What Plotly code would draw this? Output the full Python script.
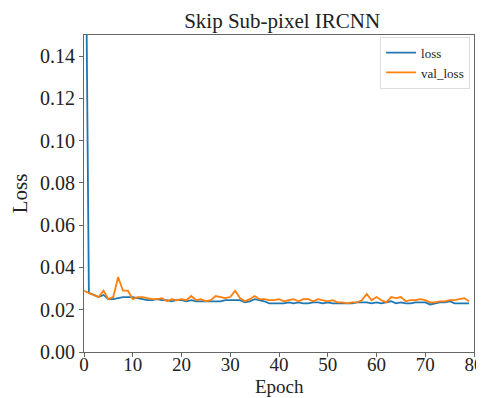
import plotly.graph_objects as go

epochs = list(range(80))
loss = [0.30, 0.028, 0.027, 0.026, 0.027, 0.025, 0.025, 0.0255, 0.026, 0.026,
        0.026, 0.0255, 0.025, 0.0245, 0.0245, 0.025, 0.0245, 0.0245, 0.024, 0.0245,
        0.0245, 0.024, 0.0245, 0.024, 0.024, 0.024, 0.024, 0.024, 0.024, 0.0245,
        0.0245, 0.0245, 0.0245, 0.0235, 0.024, 0.025, 0.0245, 0.024, 0.023, 0.023,
        0.023, 0.023, 0.0235, 0.023, 0.0235, 0.023, 0.023, 0.0235, 0.0235, 0.023,
        0.0235, 0.023, 0.023, 0.023, 0.023, 0.023, 0.0235, 0.0235, 0.0235, 0.023,
        0.0235, 0.023, 0.0235, 0.024, 0.023, 0.0235, 0.023, 0.023, 0.0235, 0.0235,
        0.0235, 0.0225, 0.023, 0.0235, 0.0235, 0.024, 0.023, 0.023, 0.023, 0.023]
val_loss = [0.029, 0.028, 0.027, 0.026, 0.029, 0.025, 0.026, 0.0355, 0.029, 0.029,
            0.025, 0.026, 0.026, 0.0255, 0.025, 0.025, 0.0255, 0.024, 0.025, 0.0245,
            0.025, 0.0245, 0.0265, 0.0245, 0.025, 0.024, 0.0245, 0.0265, 0.026, 0.0255,
            0.026, 0.029, 0.0255, 0.024, 0.025, 0.0265, 0.025, 0.025, 0.0245, 0.0245,
            0.025, 0.024, 0.0245, 0.025, 0.024, 0.025, 0.025, 0.024, 0.025, 0.0245,
            0.024, 0.0245, 0.0235, 0.0235, 0.023, 0.0235, 0.0235, 0.0245, 0.0275, 0.0245,
            0.026, 0.0245, 0.0235, 0.026, 0.0255, 0.026, 0.024, 0.0245, 0.0245, 0.025,
            0.0245, 0.0235, 0.0235, 0.024, 0.024, 0.0245, 0.0245, 0.025, 0.0255, 0.024]
x_ticks = [0, 10, 20, 30, 40, 50, 60, 70, 80]
y_ticks = [0.00, 0.02, 0.04, 0.06, 0.08, 0.10, 0.12, 0.14]

font_family = "Liberation Serif, Times New Roman, serif"

fig = go.Figure()
fig.add_trace(go.Scatter(x=epochs, y=loss, mode="lines", name="loss",
                         line=dict(color="#1f77b4", width=1.8)))
fig.add_trace(go.Scatter(x=epochs, y=val_loss, mode="lines", name="val_loss",
                         line=dict(color="#ff7f0e", width=1.8)))

axis_common = dict(showline=True, linecolor="#666666", linewidth=1.2, mirror=True,
                   showgrid=False, zeroline=False, ticks="outside", ticklen=4,
                   tickcolor="#666666", automargin=False)

fig.update_layout(
    width=476, height=390,
    margin=dict(l=76, r=10, t=27, b=46),
    paper_bgcolor="white", plot_bgcolor="white",
    title=dict(text="Skip Sub-pixel IRCNN", x=0.576, xanchor="center",
               y=0.968, yanchor="middle",
               font=dict(family=font_family, size=21, color="#222222")),
    xaxis=dict(range=[0, 80], tickvals=x_ticks, ticktext=[str(t) for t in x_ticks],
               ticklabelstandoff=-9, ticklabeloverflow="allow",
               tickfont=dict(family=font_family, size=19, color="#222222"),
               **axis_common),
    yaxis=dict(range=[0, 0.15], tickvals=y_ticks, ticktext=[f"{t:.2f}" for t in y_ticks],
               tickfont=dict(family=font_family, size=20, color="#222222"),
               title=dict(text="Loss", standoff=6,
                          font=dict(family=font_family, size=21, color="#222222")),
               **axis_common),
    legend=dict(x=0.99, y=0.995, xanchor="right", yanchor="top",
                bgcolor="rgba(255,255,255,0.8)", bordercolor="#dddddd", borderwidth=1,
                font=dict(family=font_family, size=13, color="#222222"),
                tracegroupgap=0, itemwidth=30),
    annotations=[dict(text="Epoch", xref="paper", yref="paper", x=0.5, y=0,
                      xanchor="center", yanchor="bottom", yshift=-46, showarrow=False,
                      borderpad=0,
                      font=dict(family=font_family, size=19, color="#222222"))],
    showlegend=True,
)

fig.write_html("out.html")
